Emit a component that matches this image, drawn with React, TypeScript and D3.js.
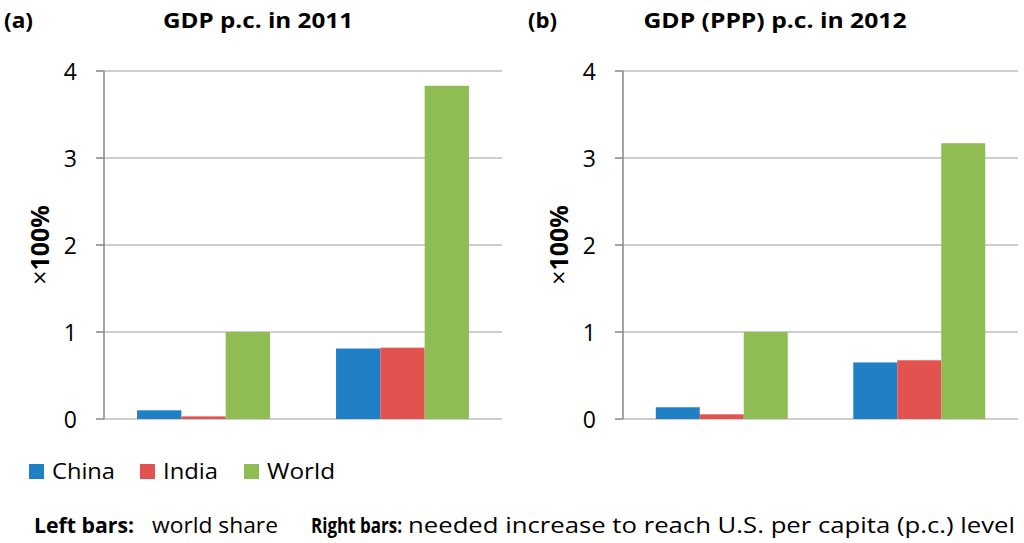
import * as d3 from 'd3';

const groups = ['left', 'right'];
const seriesNames = ['China', 'India', 'World'];
const seriesColors = ['#1F80C6', '#E2534F', '#8FBD53'];
const yTicks = [0, 1, 2, 3, 4];

// panel (a): GDP p.c. in 2011
const chinaA = [0.1, 0.81];
const indiaA = [0.03, 0.82];
const worldA = [1.0, 3.83];

// panel (b): GDP (PPP) p.c. in 2012
const chinaB = [0.135, 0.65];
const indiaB = [0.054, 0.675];
const worldB = [1.0, 3.17];

const FONT = "'Open Sans', 'Noto Sans', sans-serif";

interface PanelProps {
  tag: string;
  title: string;
  titleX: number;
  titleW: number;
  tagX: number;
  left: number;
  right: number;
  values: number[][];
}

function Panel({ tag, title, titleX, titleW, tagX, left, right, values }: PanelProps) {
  const top = 71;
  const bottom = 419;
  const y = d3.scaleLinear().domain([0, 4]).range([bottom, top]);
  const x0 = d3.scaleBand().domain(groups).range([left, right]).paddingInner(0.332).paddingOuter(0.166);
  const x1 = d3.scaleBand().domain(seriesNames).range([0, x0.bandwidth()]);

  return (
    <g>
      <text x={tagX} y={28} fontFamily={FONT} fontWeight="bold" fontSize={21} textLength={29} lengthAdjust="spacingAndGlyphs">{tag}</text>
      <text x={titleX - titleW / 2} y={28} fontFamily={FONT} fontWeight="bold" fontSize={20.5} textLength={titleW} lengthAdjust="spacingAndGlyphs">{title}</text>
      {yTicks.map((t) => (
        <g key={t}>
          <line x1={left} x2={right} y1={y(t)} y2={y(t)} stroke="#BEBEBE" strokeWidth={1.5} />
          <line x1={left - 8} x2={left} y1={y(t)} y2={y(t)} stroke="#868686" strokeWidth={1.5} />
          <text x={left - 27} y={y(t) + 8.5} textAnchor="end" fontFamily={FONT} fontSize={23}>{t}</text>
        </g>
      ))}
      <line x1={left} x2={left} y1={top} y2={bottom} stroke="#868686" strokeWidth={1.5} />
      {groups.map((g, gi) => (
        <g key={g}>
          {seriesNames.map((s, si) => (
            <rect
              key={s}
              x={(x0(g) ?? 0) + (x1(s) ?? 0)}
              y={y(values[si][gi])}
              width={x1.bandwidth()}
              height={bottom - y(values[si][gi])}
              fill={seriesColors[si]}
            />
          ))}
        </g>
      ))}
      <text
        transform={`translate(${left - 55},245) rotate(-90)`}
        textAnchor="middle"
        fontFamily={FONT}
        fontSize={25}
      >
        <tspan fontWeight="normal">×</tspan>
        <tspan fontWeight="bold">100%</tspan>
      </text>
    </g>
  );
}

const legendX = [29, 140, 244];
const legendW = [63, 55, 68];

// bottom note pieces: [text, bold, x, width]
const notes: [string, boolean, number, number][] = [
  ['Left bars:', true, 34, 100],
  ['world share', false, 152, 126],
  ['Right bars:', true, 311, 91],
  ['needed increase to reach U.S. per capita (p.c.) level', false, 408, 607],
];

export default function App() {
  const sx = 0.8;
  return (
    <svg width={1024} height={543} style={{ position: 'absolute', left: 0, top: 0, background: '#fff' }}>
      <rect width={1024} height={543} fill="#fff" />
      <Panel tag="(a)" title="GDP p.c. in 2011" titleX={258} titleW={190} tagX={4} left={104} right={502} values={[chinaA, indiaA, worldA]} />
      <Panel tag="(b)" title="GDP (PPP) p.c. in 2012" titleX={775} titleW={263} tagX={528} left={623} right={1018} values={[chinaB, indiaB, worldB]} />
      {seriesNames.map((s, i) => (
        <g key={s}>
          <rect x={legendX[i]} y={464} width={15} height={15} fill={seriesColors[i]} />
          <text x={legendX[i] + 23} y={478.5} fontFamily={FONT} fontSize={21.5} textLength={legendW[i]} lengthAdjust="spacingAndGlyphs">{s}</text>
        </g>
      ))}
      {notes.map(([t, bold, x, w]) => (
        <text
          key={t}
          transform={`translate(${x},533) scale(${sx},1)`}
          fontFamily={FONT}
          fontSize={21}
          fontWeight={bold ? 'bold' : 'normal'}
          textLength={w / sx}
          lengthAdjust="spacingAndGlyphs"
        >
          {t}
        </text>
      ))}
    </svg>
  );
}
